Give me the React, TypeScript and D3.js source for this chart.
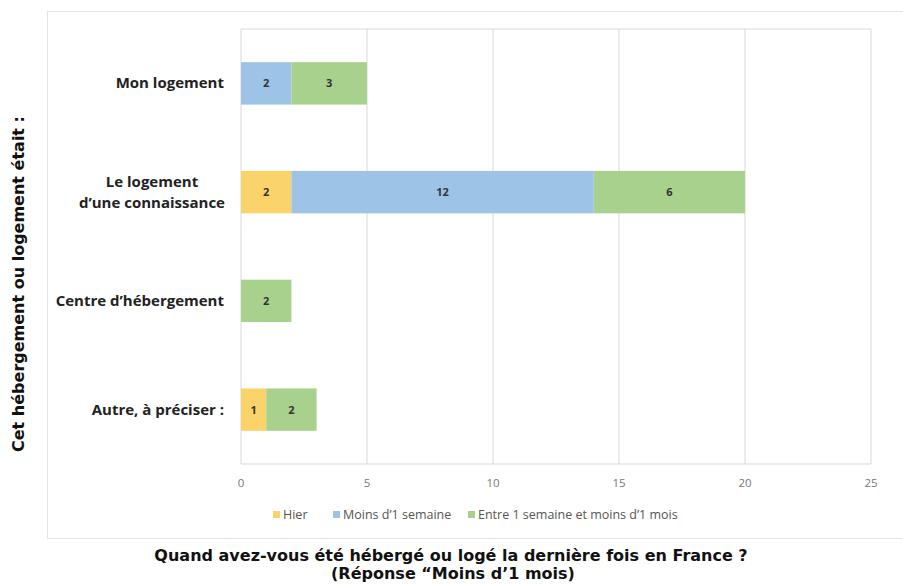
import React, { useEffect, useRef } from "react";
import * as d3 from "d3";

const categories = ["Mon logement", "Le logement\nd’une connaissance", "Centre d’hébergement", "Autre, à préciser :"];
const seriesNames = ["Hier", "Moins d’1 semaine", "Entre 1 semaine et moins d’1 mois"];
const hier = [0, 2, 0, 1];
const moinsSemaine = [2, 12, 0, 0];
const entreSemaineMois = [3, 6, 2, 2];
const xTicks = [0, 5, 10, 15, 20, 25];
const colors = ["#FAD46B", "#9DC3E6", "#A9D18E"];

const App = () => {
  const svgRef = useRef<SVGSVGElement>(null);

  useEffect(() => {
    const svg = d3.select(svgRef.current);
    svg.selectAll("*").remove();

    const width = 903;
    const height = 584;
    const margin = { top: 29, right: 32, bottom: 120, left: 241 };

    // outer frame
    svg.append("rect")
      .attr("x", 47.5).attr("y", 11.5)
      .attr("width", 870).attr("height", 527)
      .attr("fill", "#fff").attr("stroke", "#e3e3e3");

    const x = d3.scaleLinear().domain([0, 25]).range([margin.left, width - margin.right]);
    const y = d3.scaleBand().domain(categories).range([margin.top, height - margin.bottom]).paddingInner(0.61).paddingOuter(0.305);

    const rows = categories.map((c, i) => ({ cat: c, Hier: hier[i], Moins: moinsSemaine[i], Entre: entreSemaineMois[i] }));
    const keys = ["Hier", "Moins", "Entre"];
    const stacked = d3.stack().keys(keys)(rows as any);

    // gridlines + plot box
    svg.append("g").selectAll("line").data(xTicks.slice(1)).join("line")
      .attr("x1", d => x(d)).attr("x2", d => x(d))
      .attr("y1", margin.top).attr("y2", height - margin.bottom)
      .attr("stroke", "#d9d9d9");
    svg.append("line")
      .attr("x1", margin.left).attr("x2", width - margin.right)
      .attr("y1", margin.top).attr("y2", margin.top).attr("stroke", "#d9d9d9");
    svg.append("line")
      .attr("x1", margin.left).attr("x2", width - margin.right)
      .attr("y1", height - margin.bottom).attr("y2", height - margin.bottom).attr("stroke", "#d9d9d9");
    svg.append("line")
      .attr("x1", margin.left).attr("x2", margin.left)
      .attr("y1", margin.top).attr("y2", height - margin.bottom).attr("stroke", "#d9d9d9");

    stacked.forEach((layer, li) => {
      const g = svg.append("g");
      layer.forEach((seg: any) => {
        const v = seg[1] - seg[0];
        if (!v) return;
        const cat = seg.data.cat;
        g.append("rect")
          .attr("x", x(seg[0])).attr("y", y(cat)!)
          .attr("width", x(seg[1]) - x(seg[0])).attr("height", y.bandwidth())
          .attr("fill", colors[li]);
        g.append("text")
          .attr("x", (x(seg[0]) + x(seg[1])) / 2)
          .attr("y", y(cat)! + y.bandwidth() / 2 + 4)
          .attr("text-anchor", "middle")
          .attr("font-family", "Open Sans, sans-serif").attr("font-weight", "bold")
          .attr("font-size", 11).attr("fill", "#333")
          .text(v);
      });
    });

    // x tick labels
    svg.append("g").selectAll("text").data(xTicks).join("text")
      .attr("x", d => x(d)).attr("y", 487)
      .attr("text-anchor", "middle")
      .attr("font-family", "Open Sans, sans-serif").attr("font-size", 11.5).attr("fill", "#777")
      .text(d => d);

    // category labels
    const labels = svg.append("g");
    categories.forEach(c => {
      const lines = c.split("\n");
      const cy = y(c)! + y.bandwidth() / 2;
      lines.forEach((ln, i) => {
        labels.append("text")
          .attr("x", lines.length > 1 ? 152 : 224)
          .attr("y", cy + 5 + (i - (lines.length - 1) / 2) * 21)
          .attr("text-anchor", lines.length > 1 ? "middle" : "end")
          .attr("font-family", "Open Sans, sans-serif").attr("font-weight", "bold")
          .attr("font-size", 15).attr("fill", "#222")
          .text(ln);
      });
    });

    // legend
    const legendX = [273, 333, 468];
    seriesNames.forEach((s, i) => {
      svg.append("rect").attr("x", legendX[i]).attr("y", 511).attr("width", 7).attr("height", 7).attr("fill", colors[i]);
      svg.append("text").attr("x", legendX[i] + 10).attr("y", 519)
        .attr("font-family", "Open Sans, sans-serif").attr("font-size", 12.5).attr("fill", "#555")
        .text(s);
    });

    // axis titles
    svg.append("text")
      .attr("transform", `translate(24,284) rotate(-90)`)
      .attr("text-anchor", "middle")
      .attr("font-family", "DejaVu Sans, sans-serif").attr("font-weight", "bold")
      .attr("font-size", 16).attr("fill", "#111")
      .text("Cet hébergement ou logement était :");
    svg.append("text")
      .attr("x", 451).attr("y", 561).attr("text-anchor", "middle")
      .attr("font-family", "DejaVu Sans, sans-serif").attr("font-weight", "bold")
      .attr("font-size", 16).attr("fill", "#111")
      .text("Quand avez-vous été hébergé ou logé la dernière fois en France ?");
    svg.append("text")
      .attr("x", 453).attr("y", 579).attr("text-anchor", "middle")
      .attr("font-family", "DejaVu Sans, sans-serif").attr("font-weight", "bold")
      .attr("font-size", 16).attr("fill", "#111")
      .text("(Réponse “Moins d’1 mois)");
  }, []);

  return <svg ref={svgRef} width={903} height={584} style={{ position: "absolute", left: 0, top: 0 }} />;
};

export default App;
